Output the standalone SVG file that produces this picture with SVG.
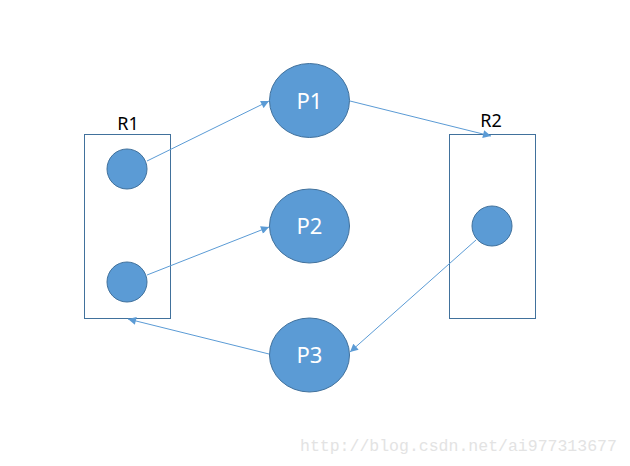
<svg xmlns="http://www.w3.org/2000/svg" width="630" height="466" viewBox="0 0 630 466">
<style>
.box{fill:none;stroke:#41719C;stroke-width:1}
.dot{fill:#5B9BD5;stroke:#41719C;stroke-width:1}
.lbl{font-family:"Noto Sans","Liberation Sans",sans-serif;font-size:18px;fill:#000;text-anchor:middle}
.plbl{font-family:"Noto Sans","Liberation Sans",sans-serif;font-size:22px;fill:#fff;text-anchor:middle}
.edge{stroke:#5B9BD5;stroke-width:1;fill:none;marker-end:url(#ah)}
.wm{font-family:"Liberation Mono","DejaVu Sans Mono",monospace;font-size:16.5px;fill:#e3e3e3}
</style>
<defs>
<marker id="ah" viewBox="0 0 10 10" refX="10" refY="5" markerWidth="10" markerHeight="8" orient="auto" markerUnits="userSpaceOnUse">
<path d="M0,0 L10,5 L0,10 z" fill="#5B9BD5"/>
</marker>
</defs>
<rect width="630" height="466" fill="#fff"/>
<g id="R1">
<rect class="box" x="84.5" y="134.5" width="86" height="184"/>
<text class="lbl" x="128" y="130">R1</text>
<circle class="dot" cx="127" cy="169" r="20"/>
<circle class="dot" cx="127" cy="282" r="20"/>
</g>
<g id="R2">
<rect class="box" x="449.5" y="134.5" width="86" height="184"/>
<text class="lbl" x="491" y="127">R2</text>
<circle class="dot" cx="492" cy="226" r="20"/>
</g>
<g id="P1">
<ellipse class="dot" cx="309.5" cy="100.5" rx="40" ry="37"/>
<text class="plbl" x="309.5" y="108.5">P1</text>
</g>
<g id="P2">
<ellipse class="dot" cx="309.5" cy="226" rx="40" ry="37"/>
<text class="plbl" x="309.5" y="234">P2</text>
</g>
<g id="P3">
<ellipse class="dot" cx="309.5" cy="355" rx="40" ry="37"/>
<text class="plbl" x="309.5" y="363">P3</text>
</g>
<g id="connectors">
<line class="edge" x1="147" y1="161" x2="269" y2="101"/>
<line class="edge" x1="147" y1="275" x2="269" y2="227"/>
<line class="edge" x1="350" y1="101" x2="491" y2="136"/>
<line class="edge" x1="476" y1="240" x2="350" y2="352"/>
<line class="edge" x1="269" y1="354" x2="128" y2="319"/>
</g>
<text class="wm" x="300" y="451">http://blog.csdn.net/ai977313677</text>
</svg>
